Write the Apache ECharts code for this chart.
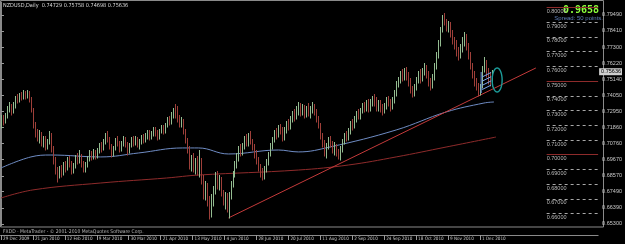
<!DOCTYPE html>
<html>
<head>
<meta charset="utf-8">
<script src="https://cdn.jsdelivr.net/npm/echarts@6/dist/echarts.min.js"></script>
<style>
  html, body { margin: 0; padding: 0; background: #000; }
  #chart { width: 625px; height: 244px; }
</style>
</head>
<body>
<div id="chart"></div>
<script>
// daily bars, NZDUSD, from 29 Dec 2009: [open, close, low, high]
const ohlc = [
  [0.7210,0.7250,0.7180,0.7270],[0.7250,0.7232,0.7205,0.7268],[0.7232,0.7265,0.7215,0.7280],[0.7265,0.7310,0.7250,0.7330],
  [0.7310,0.7330,0.7290,0.7360],[0.7330,0.7295,0.7270,0.7345],[0.7295,0.7340,0.7285,0.7355],[0.7340,0.7385,0.7320,0.7400],
  [0.7385,0.7370,0.7350,0.7410],[0.7370,0.7405,0.7355,0.7420],[0.7405,0.7390,0.7370,0.7425],[0.7390,0.7420,0.7380,0.7440],
  [0.7420,0.7400,0.7380,0.7435],[0.7400,0.7425,0.7385,0.7440],[0.7425,0.7380,0.7360,0.7435],[0.7380,0.7310,0.7290,0.7395],
  [0.7310,0.7200,0.7180,0.7320],[0.7200,0.7150,0.7120,0.7220],[0.7150,0.7120,0.7090,0.7175],[0.7120,0.7140,0.7080,0.7165],
  [0.7140,0.7080,0.7060,0.7155],[0.7080,0.7110,0.7050,0.7130],[0.7110,0.7060,0.7030,0.7125],[0.7060,0.7090,0.7040,0.7110],
  [0.7090,0.7130,0.7070,0.7160],[0.7130,0.7050,0.7020,0.7145],[0.7050,0.6960,0.6940,0.7060],[0.6960,0.6900,0.6870,0.6985],
  [0.6900,0.6860,0.6815,0.6920],[0.6860,0.6905,0.6840,0.6925],[0.6905,0.6880,0.6850,0.6930],[0.6880,0.6935,0.6865,0.6950],
  [0.6935,0.6910,0.6880,0.6960],[0.6910,0.6965,0.6895,0.6985],[0.6965,0.6940,0.6915,0.6990],[0.6940,0.6890,0.6870,0.6955],
  [0.6890,0.6925,0.6875,0.6945],[0.6925,0.6980,0.6910,0.7000],[0.6980,0.6960,0.6940,0.7010],[0.6960,0.6990,0.6945,0.7030],
  [0.6990,0.6945,0.6920,0.7005],[0.6945,0.6900,0.6880,0.6960],[0.6900,0.6930,0.6885,0.6950],[0.6930,0.6975,0.6915,0.6990],
  [0.6975,0.7010,0.6960,0.7030],[0.7010,0.6985,0.6965,0.7025],[0.6985,0.7020,0.6970,0.7040],[0.7020,0.6990,0.6970,0.7035],
  [0.6990,0.7025,0.6980,0.7045],[0.7025,0.7060,0.7010,0.7080],[0.7060,0.7045,0.7020,0.7085],[0.7045,0.7090,0.7035,0.7110],
  [0.7090,0.7130,0.7075,0.7150],[0.7130,0.7105,0.7085,0.7160],[0.7105,0.7060,0.7040,0.7120],[0.7060,0.7010,0.6985,0.7075],
  [0.7010,0.7045,0.6990,0.7060],[0.7045,0.7100,0.7030,0.7115],[0.7100,0.7080,0.7060,0.7130],[0.7080,0.7040,0.7020,0.7095],
  [0.7040,0.7075,0.7025,0.7095],[0.7075,0.7110,0.7060,0.7125],[0.7110,0.7070,0.7050,0.7120],[0.7070,0.7030,0.7000,0.7085],
  [0.7030,0.7060,0.7010,0.7080],[0.7060,0.7100,0.7050,0.7120],[0.7100,0.7085,0.7060,0.7125],[0.7085,0.7110,0.7065,0.7130],
  [0.7110,0.7070,0.7050,0.7120],[0.7070,0.7090,0.7040,0.7110],[0.7090,0.7120,0.7075,0.7135],[0.7120,0.7100,0.7080,0.7140],
  [0.7100,0.7130,0.7085,0.7145],[0.7130,0.7155,0.7110,0.7170],[0.7155,0.7120,0.7100,0.7165],[0.7120,0.7145,0.7105,0.7160],
  [0.7145,0.7170,0.7130,0.7185],[0.7170,0.7150,0.7130,0.7190],[0.7150,0.7125,0.7100,0.7165],[0.7125,0.7160,0.7110,0.7175],
  [0.7160,0.7185,0.7145,0.7200],[0.7185,0.7165,0.7140,0.7200],[0.7165,0.7200,0.7150,0.7215],[0.7200,0.7240,0.7185,0.7255],
  [0.7240,0.7220,0.7200,0.7265],[0.7220,0.7265,0.7210,0.7290],[0.7265,0.7300,0.7250,0.7320],[0.7300,0.7280,0.7250,0.7345],
  [0.7280,0.7250,0.7220,0.7330],[0.7250,0.7210,0.7190,0.7270],[0.7210,0.7235,0.7185,0.7255],[0.7235,0.7160,0.7140,0.7245],
  [0.7160,0.7100,0.7080,0.7175],[0.7100,0.7040,0.7010,0.7115],[0.7040,0.6930,0.6900,0.7060],[0.6930,0.6980,0.6890,0.7000],
  [0.6980,0.6900,0.6880,0.7010],[0.6900,0.6950,0.6870,0.6975],[0.6950,0.6880,0.6860,0.6990],[0.6880,0.6960,0.6850,0.7030],
  [0.6960,0.6840,0.6800,0.6975],[0.6840,0.6740,0.6700,0.6860],[0.6740,0.6790,0.6690,0.6820],[0.6790,0.6680,0.6650,0.6810],
  [0.6680,0.6600,0.6565,0.6720],[0.6600,0.6700,0.6580,0.6730],[0.6700,0.6760,0.6650,0.6790],[0.6760,0.6850,0.6735,0.6880],
  [0.6850,0.6800,0.6770,0.6890],[0.6800,0.6830,0.6760,0.6860],[0.6830,0.6740,0.6720,0.6850],[0.6740,0.6690,0.6660,0.6760],
  [0.6690,0.6720,0.6630,0.6750],[0.6720,0.6660,0.6610,0.6740],[0.6660,0.6730,0.6570,0.6750],[0.6730,0.6800,0.6700,0.6820],
  [0.6800,0.6870,0.6780,0.6890],[0.6870,0.6940,0.6850,0.6960],[0.6940,0.6985,0.6910,0.7010],[0.6985,0.7040,0.6960,0.7060],
  [0.7040,0.7010,0.6990,0.7070],[0.7010,0.7060,0.6995,0.7080],[0.7060,0.7110,0.7040,0.7130],[0.7110,0.7080,0.7060,0.7140],
  [0.7080,0.7120,0.7060,0.7150],[0.7120,0.7090,0.7070,0.7160],[0.7090,0.7050,0.7030,0.7110],[0.7050,0.7010,0.6980,0.7070],
  [0.7010,0.6960,0.6940,0.7030],[0.6960,0.6920,0.6890,0.6985],[0.6920,0.6880,0.6850,0.6940],[0.6880,0.6850,0.6830,0.6910],
  [0.6850,0.6900,0.6835,0.6925],[0.6900,0.6950,0.6880,0.6970],[0.6950,0.7000,0.6930,0.7020],[0.7000,0.7060,0.6990,0.7080],
  [0.7060,0.7100,0.7040,0.7120],[0.7100,0.7150,0.7085,0.7170],[0.7150,0.7130,0.7110,0.7180],[0.7130,0.7180,0.7120,0.7200],
  [0.7180,0.7160,0.7140,0.7210],[0.7160,0.7120,0.7090,0.7185],[0.7120,0.7170,0.7100,0.7190],[0.7170,0.7210,0.7150,0.7230],
  [0.7210,0.7190,0.7170,0.7240],[0.7190,0.7240,0.7175,0.7260],[0.7240,0.7280,0.7220,0.7300],[0.7280,0.7260,0.7230,0.7310],
  [0.7260,0.7300,0.7240,0.7330],[0.7300,0.7330,0.7270,0.7360],[0.7330,0.7290,0.7260,0.7350],[0.7290,0.7320,0.7270,0.7345],
  [0.7320,0.7280,0.7250,0.7340],[0.7280,0.7310,0.7255,0.7330],[0.7310,0.7280,0.7260,0.7350],[0.7280,0.7300,0.7250,0.7330],
  [0.7300,0.7330,0.7280,0.7355],[0.7330,0.7290,0.7270,0.7345],[0.7290,0.7250,0.7225,0.7310],[0.7250,0.7200,0.7180,0.7265],
  [0.7200,0.7130,0.7110,0.7215],[0.7130,0.7080,0.7050,0.7145],[0.7080,0.7020,0.6990,0.7100],[0.7020,0.7060,0.6975,0.7080],
  [0.7060,0.7100,0.7040,0.7120],[0.7100,0.7070,0.7050,0.7130],[0.7070,0.7030,0.7010,0.7090],[0.7030,0.7060,0.7000,0.7085],
  [0.7060,0.7020,0.6990,0.7075],[0.7020,0.6990,0.6970,0.7040],[0.6990,0.7040,0.6965,0.7060],[0.7040,0.7090,0.7020,0.7110],
  [0.7090,0.7130,0.7070,0.7150],[0.7130,0.7110,0.7090,0.7160],[0.7110,0.7160,0.7100,0.7180],[0.7160,0.7210,0.7140,0.7230],
  [0.7210,0.7190,0.7170,0.7240],[0.7190,0.7240,0.7180,0.7260],[0.7240,0.7280,0.7220,0.7300],[0.7280,0.7260,0.7240,0.7310],
  [0.7260,0.7300,0.7245,0.7320],[0.7300,0.7330,0.7280,0.7350],[0.7330,0.7310,0.7290,0.7360],[0.7310,0.7340,0.7295,0.7370],
  [0.7340,0.7320,0.7290,0.7380],[0.7320,0.7350,0.7300,0.7380],[0.7350,0.7380,0.7330,0.7400],[0.7380,0.7360,0.7330,0.7410],
  [0.7360,0.7320,0.7300,0.7390],[0.7320,0.7350,0.7300,0.7370],[0.7350,0.7320,0.7290,0.7370],[0.7320,0.7300,0.7270,0.7345],
  [0.7300,0.7330,0.7280,0.7350],[0.7330,0.7370,0.7310,0.7390],[0.7370,0.7350,0.7330,0.7400],[0.7350,0.7320,0.7300,0.7380],
  [0.7320,0.7370,0.7310,0.7390],[0.7370,0.7420,0.7350,0.7440],[0.7420,0.7480,0.7400,0.7500],[0.7480,0.7510,0.7460,0.7530],
  [0.7510,0.7550,0.7490,0.7570],[0.7550,0.7530,0.7500,0.7580],[0.7530,0.7570,0.7510,0.7590],[0.7570,0.7540,0.7510,0.7595],
  [0.7540,0.7500,0.7470,0.7560],[0.7500,0.7450,0.7420,0.7520],[0.7450,0.7420,0.7390,0.7470],[0.7420,0.7460,0.7400,0.7480],
  [0.7460,0.7510,0.7440,0.7530],[0.7510,0.7550,0.7490,0.7570],[0.7550,0.7520,0.7490,0.7580],[0.7520,0.7560,0.7500,0.7590],
  [0.7560,0.7590,0.7540,0.7620],[0.7590,0.7550,0.7520,0.7610],[0.7550,0.7500,0.7470,0.7570],[0.7500,0.7470,0.7440,0.7520],
  [0.7470,0.7530,0.7450,0.7550],[0.7530,0.7600,0.7510,0.7620],[0.7600,0.7680,0.7580,0.7700],[0.7680,0.7760,0.7660,0.7780],
  [0.7760,0.7850,0.7740,0.7870],[0.7850,0.7930,0.7830,0.7950],[0.7930,0.7900,0.7880,0.7965],[0.7900,0.7870,0.7840,0.7920],
  [0.7870,0.7890,0.7830,0.7910],[0.7890,0.7820,0.7800,0.7900],[0.7820,0.7780,0.7750,0.7850],[0.7780,0.7750,0.7720,0.7800],
  [0.7750,0.7700,0.7670,0.7780],[0.7700,0.7680,0.7640,0.7730],[0.7680,0.7720,0.7660,0.7750],[0.7720,0.7780,0.7700,0.7800],
  [0.7780,0.7800,0.7740,0.7830],[0.7800,0.7740,0.7710,0.7820],[0.7740,0.7680,0.7650,0.7760],[0.7680,0.7600,0.7580,0.7700],
  [0.7600,0.7550,0.7520,0.7620],[0.7550,0.7500,0.7470,0.7570],[0.7500,0.7470,0.7440,0.7520],[0.7470,0.7420,0.7400,0.7490],
  [0.7420,0.7460,0.7405,0.7480],[0.7460,0.7580,0.7450,0.7600],[0.7580,0.7620,0.7560,0.7665],[0.7620,0.7560,0.7530,0.7640],
  [0.7560,0.7520,0.7480,0.7590],[0.7520,0.7500,0.7470,0.7560],[0.7473,0.7564,0.7470,0.7576]
]

// moving averages, read at a few bars: [barIndex, price]
const maBlue = [[0,0.6910],[15,0.6985],[25,0.6998],[50,0.6985],[69,0.7012],[91,0.7046],[99,0.7046],[114,0.7005],
  [139,0.7032],[149,0.7019],[165,0.7053],[198,0.7168],[223,0.7290],[242,0.7351],[247,0.7358]]
const maRed = [[0,0.6706],[16,0.6761],[50,0.6808],[83,0.6842],[99,0.6862],[149,0.6896],[174,0.6930],
  [198,0.6985],[223,0.7052],[248,0.7120]]

// trendline from the June low
const trendLine = [[114, 0.6571], [268, 0.7589]]

// bottom time scale: a label every 16 bars
const dateTicks = [0, 16, 32, 48, 64, 80, 96, 112, 128, 144, 160, 176, 192, 208, 224, 240]
const dateLabels = ['29 Dec 2009', '21 Jan 2010', '12 Feb 2010', '9 Mar 2010', '30 Mar 2010', '21 Apr 2010',
  '13 May 2010', '4 Jun 2010', '28 Jun 2010', '20 Jul 2010', '11 Aug 2010', '2 Sep 2010', '24 Sep 2010',
  '18 Oct 2010', '9 Nov 2010', '1 Dec 2010']

// right price scale
const priceTicks = [0.79490, 0.78410, 0.77300, 0.76220, 0.75140, 0.74050, 0.72950, 0.71860, 0.70760,
  0.69670, 0.68570, 0.67490, 0.66390, 0.65300]
const lastClose = 0.75636

// round-number levels on the right (0.80, 0.75, 0.70 in red)
const levels = [0.80, 0.79, 0.78, 0.77, 0.76, 0.75, 0.74, 0.73, 0.72, 0.71, 0.70, 0.69, 0.68, 0.67, 0.66]
const redLevels = [0.80, 0.75, 0.70]

// hand drawn marks near the last bars: [x0, x1, priceLow, priceHigh]
const hatchBox = [240.6, 245.6, 0.7419, 0.7562]
const ellipseBox = [246.1, 251.1, 0.7426, 0.7589]

const X_MIN = -0.2
const X_MAX = 299.2
const LEVEL_START = 273.4
const FONT = 'Liberation Sans, DejaVu Sans, sans-serif'
const NARROW = 'Liberation Sans Narrow, DejaVu Sans Condensed, Liberation Sans, sans-serif'

const chart = echarts.init(document.getElementById('chart'), null, { renderer: 'canvas' })

const barData = ohlc.map((b, i) => [i, b[0], b[1], b[2], b[3]])

const option = {
  backgroundColor: '#000000',
  animation: false,
  grid: { left: 0, right: 22, top: 2, bottom: 18, containLabel: false },
  xAxis: {
    type: 'value',
    min: X_MIN,
    max: X_MAX,
    offset: 9,
    axisLine: { show: true, lineStyle: { color: '#8a8a8a', width: 1 } },
    axisTick: { show: true, customValues: dateTicks, length: 5, lineStyle: { color: '#9a9a9a' } },
    axisLabel: {
      customValues: dateTicks,
      formatter: (v) => dateLabels[Math.round(v / 16)] || '',
      align: 'left',
      padding: [0, 0, 0, 2],
      margin: 1,
      fontSize: 4.6,
      fontFamily: NARROW,
      color: '#c8c8c8'
    },
    splitLine: { show: false }
  },
  yAxis: [
    {
      type: 'value',
      position: 'right',
      min: 0.6516,
      max: 0.8037,
      axisLine: { show: true, lineStyle: { color: '#8a8a8a', width: 1 } },
      axisTick: { show: true, customValues: priceTicks, length: 3, lineStyle: { color: '#9a9a9a' } },
      axisLabel: {
        customValues: priceTicks,
        formatter: (v) => v.toFixed(5),
        margin: 4,
        fontSize: 5.5,
        fontFamily: FONT,
        color: '#c8c8c8'
      },
      splitLine: { show: false }
    },
    {
      type: 'value',
      position: 'right',
      min: 0.6516,
      max: 0.8037,
      axisLine: { show: false },
      axisTick: { show: false },
      axisLabel: {
        customValues: [lastClose],
        formatter: (v) => v.toFixed(5),
        margin: 1,
        fontSize: 5.5,
        fontFamily: FONT,
        color: '#000000',
        backgroundColor: '#d0d0d0',
        padding: [1, 1, 0, 2]
      },
      splitLine: { show: false }
    }
  ],
  series: [
    {
      name: 'MA red',
      type: 'line',
      data: maRed,
      smooth: 0.4,
      symbol: 'none',
      lineStyle: { color: '#8e2b2b', width: 1 },
      z: 2
    },
    {
      name: 'MA blue',
      type: 'line',
      data: maBlue,
      smooth: 0.4,
      symbol: 'none',
      lineStyle: { color: '#6f8cc4', width: 1 },
      z: 2,
      markLine: {
        symbol: 'none',
        silent: true,
        data: levels.map((lv) => {
          const red = redLevels.indexOf(lv) >= 0
          return [
            {
              coord: [LEVEL_START, lv],
              lineStyle: red
                ? { color: '#8e2b2b', type: 'solid', width: 1 }
                : { color: '#a8a8a8', type: [3, 3], width: 1 },
              label: {
                show: true,
                position: 'insideStartBottom',
                distance: [0, 1],
                formatter: lv.toFixed(5),
                fontSize: 5.5,
                fontFamily: FONT,
                color: '#b8b8b8'
              }
            },
            { coord: [X_MAX, lv] }
          ]
        })
      }
    },
    {
      name: 'Trend',
      type: 'line',
      data: trendLine,
      symbol: 'none',
      lineStyle: { color: '#c43a3a', width: 1 },
      z: 3
    },
    {
      name: 'NZDUSD',
      type: 'custom',
      data: barData,
      encode: { x: 0, y: [3, 4] },
      z: 4,
      renderItem: (params, api) => {
        const i = api.value(0)
        const lo = api.coord([i, api.value(3)])
        const hi = api.coord([i, api.value(4)])
        const up = api.value(2) >= api.value(1)
        const x = Math.round(lo[0]) + 0.5
        return {
          type: 'line',
          shape: { x1: x, y1: Math.round(lo[1]) + 0.5, x2: x, y2: Math.round(hi[1]) },
          style: { stroke: up ? '#94bc91' : '#9e3f39', lineWidth: 1 }
        }
      }
    },
    {
      name: 'Hatch',
      type: 'custom',
      data: [hatchBox],
      z: 5,
      renderItem: (params, api) => {
        const p0 = api.coord([api.value(0), api.value(3)])
        const p1 = api.coord([api.value(1), api.value(2)])
        const left = p0[0], top = p0[1], right = p1[0], bottom = p1[1]
        const w = right - left
        const children = [{
          type: 'line',
          shape: { x1: left, y1: top, x2: left, y2: bottom },
          style: { stroke: '#6f9be8', lineWidth: 1 }
        }]
        for (let y = top + 5; y <= bottom; y += 4.2) {
          children.push({
            type: 'line',
            shape: { x1: left + 1, y1: y, x2: right, y2: y - w * 0.45 },
            style: { stroke: '#7aa6f0', lineWidth: 1 }
          })
        }
        return { type: 'group', children }
      }
    },
    {
      name: 'Ellipse',
      type: 'custom',
      data: [ellipseBox],
      z: 5,
      renderItem: (params, api) => {
        const p0 = api.coord([api.value(0), api.value(3)])
        const p1 = api.coord([api.value(1), api.value(2)])
        const cx = (p0[0] + p1[0]) / 2, cy = (p0[1] + p1[1]) / 2
        const rx = (p1[0] - p0[0]) / 2, ry = (p1[1] - p0[1]) / 2
        const pts = []
        for (let k = 0; k < 40; k++) {
          const a = (k / 40) * Math.PI * 2
          pts.push([cx + rx * Math.cos(a), cy + ry * Math.sin(a)])
        }
        return {
          type: 'polygon',
          shape: { points: pts },
          style: { fill: null, stroke: '#1c9c9a', lineWidth: 1.4 }
        }
      }
    }
  ],
  graphic: [
    {
      type: 'rect',
      shape: { x: 0.5, y: 0.5, width: 603, height: 226.5 },
      style: { fill: null, stroke: '#8a8a8a', lineWidth: 1 },
      silent: true
    },
    {
      type: 'text',
      left: 3, top: 3,
      style: { text: 'NZDUSD,Daily  0.74729 0.75758 0.74698 0.75636', fill: '#d8d8d8', fontSize: 5.5, fontFamily: NARROW }
    },
    {
      type: 'text',
      left: 3, top: 229,
      style: { text: 'FXDD - MetaTrader - © 2001-2010 MetaQuotes Software Corp.', fill: '#b8b8b8', fontSize: 5, fontFamily: NARROW }
    },
    {
      type: 'text',
      right: 26, top: 5,
      style: { text: '0.9658', fill: '#8cff3c', fontSize: 10, fontWeight: 'bold', fontFamily: 'DejaVu Sans Mono, monospace' }
    },
    {
      type: 'text',
      right: 22, top: 15,
      style: { text: 'Spread: 50 points.', fill: '#5f7fb8', fontSize: 6, fontFamily: FONT }
    }
  ]
}

chart.setOption(option)
</script>
</body>
</html>
